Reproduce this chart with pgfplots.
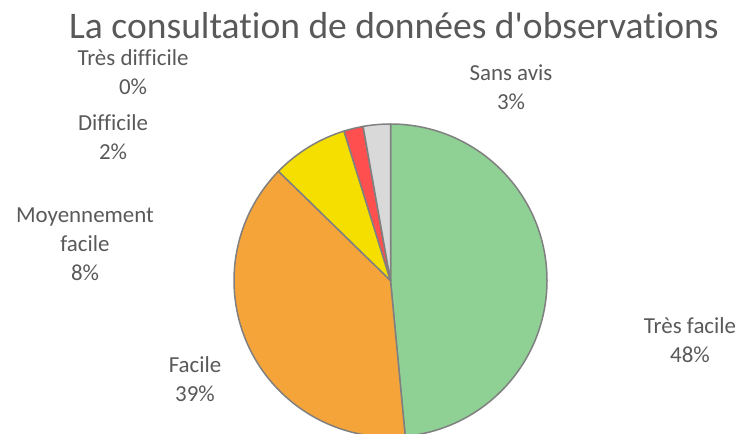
\documentclass[border=0pt]{standalone}
\usepackage{pgfplots}
\pgfplotsset{compat=1.18}
\usepackage{fontspec}
\setmainfont{Carlito}[Ligatures={NoCommon,TeXOff}]

\definecolor{txt}{HTML}{595959}
\definecolor{edge}{HTML}{808080}
\definecolor{cA}{HTML}{8FD094}
\definecolor{cB}{HTML}{F5A43A}
\definecolor{cC}{HTML}{F5DF00}
\definecolor{cD}{HTML}{FF4F4F}
\definecolor{cE}{HTML}{A6A6A6}
\definecolor{cF}{HTML}{D9D9D9}
\tikzset{lab/.style={text=txt,align=center,font=\fontsize{23}{29}\selectfont}}

\begin{document}
\begin{tikzpicture}
\begin{axis}[width=744bp,height=434bp,scale only axis,
  xmin=0,xmax=744,ymin=0,ymax=434,y dir=reverse,
  hide axis,clip=true]
% share of answers, clockwise from the top
\xdef\angS{90}
\foreach \v/\col in {48.5/cA,38.8/cB,7.9/cC,2.0/cD,0/cE,2.8/cF}{
  \pgfmathsetmacro\angE{\angS-3.6*\v}
  \edef\tmp{\noexpand\fill[\col,draw=edge,line width=1.5bp,line join=round]
    (axis cs:390.5,280.5) -- ++(\angS:156.5bp) arc[start angle=\angS,end angle=\angE,radius=156.5bp] -- cycle;}
  \tmp
  \xdef\angS{\angE}
}
\node[text=txt,font=\fontsize{37.7}{40}\selectfont] at (axis cs:394,26) {La consultation de données d'observations};
\node[lab] at (axis cs:690,340) {Très facile\\48\%};
\node[lab] at (axis cs:195,379) {Facile\\39\%};
\node[lab] at (axis cs:85,244) {Moyennement\\facile\\8\%};
\node[lab] at (axis cs:113,137) {Difficile\\2\%};
\node[lab] at (axis cs:133,72) {Très difficile\\0\%};
\node[lab] at (axis cs:511,87) {Sans avis\\3\%};
\end{axis}
\pgfresetboundingbox
\path (current axis.south west) rectangle (current axis.north east);
\end{tikzpicture}
\end{document}
